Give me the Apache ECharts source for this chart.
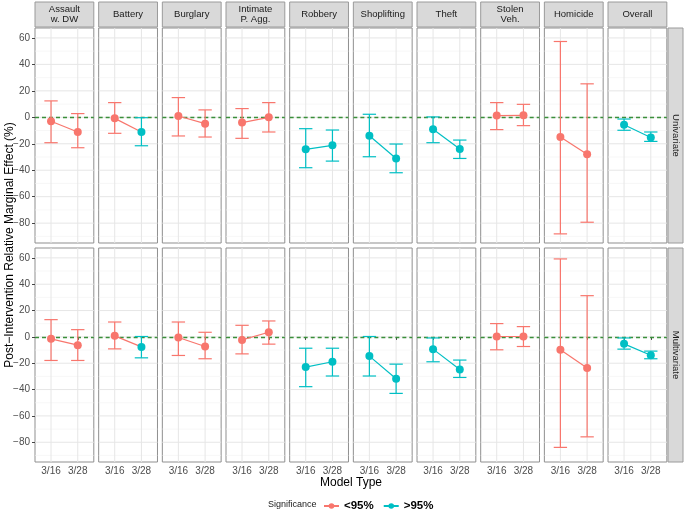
<!DOCTYPE html>
<html><head><meta charset="utf-8">
<script src="https://cdn.jsdelivr.net/npm/echarts@6/dist/echarts.min.js"></script>
<style>html,body{margin:0;padding:0;background:#fff}#c{width:685px;height:513px}</style>
</head><body><div id="c"></div>
<script>
// ---------- data ----------
const crimes = ['Assault\nw. DW','Battery','Burglary','Intimate\nP. Agg.','Robbery','Shoplifting','Theft','Stolen\nVeh.','Homicide','Overall'];
const models = ['Univariate','Multivariate'];
const modelTypes = ['3/16','3/28'];
const yTicks = [-80,-60,-40,-20,0,20,40,60];
const yGrid = [-90,-80,-70,-60,-50,-40,-30,-20,-10,0,10,20,30,40,50,60];
const sigLevels = ['<95%','>95%'];

// Univariate: [3/16, 3/28] per crime
const uniEst  = [[-3,-11.1],[-0.8,-11.1],[1,-4.8],[-4,0],[-24.2,-21.2],[-13.9,-31.1],[-9.1,-24],[1.3,1.5],[-14.9,-28],[-5.6,-15.2]];
const uniLow  = [[-19.2,-23],[-12.1,-21.5],[-14.1,-14.9],[-15.9,-11.1],[-38.1,-33.1],[-29.8,-41.9],[-19.2,-31.1],[-9.3,-6.3],[-88.1,-79.3],[-9.8,-18.2]];
const uniHigh = [[12.4,2.8],[11.1,-0.3],[14.9,5.6],[6.6,11.1],[-8.6,-9.6],[2.3,-20.2],[0.3,-17.2],[11.1,9.8],[57.3,25.3],[-1.3,-11.1]];
const uniSig  = [['<95%','<95%'],['<95%','>95%'],['<95%','<95%'],['<95%','<95%'],['>95%','>95%'],['>95%','>95%'],['>95%','>95%'],['<95%','<95%'],['<95%','<95%'],['>95%','>95%']];

// Multivariate
const mulEst  = [[-1.5,-6.3],[0.8,-7.6],[-0.5,-7.3],[-2.3,3.5],[-22.9,-18.9],[-14.6,-31.8],[-9.3,-24.7],[0.3,0.3],[-9.8,-23.7],[-5.3,-13.9]];
const mulLow  = [[-17.9,-17.9],[-9.1,-15.9],[-14.1,-16.6],[-12.9,-5.5],[-37.8,-29.7],[-29.7,-42.9],[-18.9,-30.8],[-9.8,-7.3],[-83.9,-75.9],[-9.3,-16.6]];
const mulHigh = [[13.1,5.5],[11.3,0.3],[11.3,3.5],[8.8,12.1],[-8.6,-8.6],[0.3,-20.7],[-0.8,-17.6],[10.1,7.8],[59.2,31.3],[-0.8,-10.8]];
const mulSig  = [['<95%','<95%'],['<95%','>95%'],['<95%','<95%'],['<95%','<95%'],['>95%','>95%'],['>95%','>95%'],['>95%','>95%'],['<95%','<95%'],['<95%','<95%'],['>95%','>95%']];

// ---------- styling / layout ----------
const COLORS = {'<95%':'#F8766D','>95%':'#00BFC4'};
const FONT = 'Liberation Sans, Arial, sans-serif';
const L0 = 35, STRIDE = 63.67, W = 58.8;
const ROW_TOP = [28, 248], ROW_H = [215, 214];
const YMIN = -95, YMAX = 67.5;

const est = [uniEst, mulEst], low = [uniLow, mulLow], high = [uniHigh, mulHigh], sig = [uniSig, mulSig];

const grids = [], xAxes = [], yAxes = [], series = [], graphics = [];

for (let r = 0; r < 2; r++) {
  for (let c = 0; c < 10; c++) {
    const k = r * 10 + c;
    grids.push({left: L0 + c * STRIDE, top: ROW_TOP[r], width: W, height: ROW_H[r],
      show: true, borderColor: '#8f8f8f', borderWidth: 1, backgroundColor: '#fff', containLabel: false});
    xAxes.push({type: 'value', gridIndex: k, min: 0.4, max: 2.6,
      axisLine: {show: false}, splitLine: {show: false},
      axisTick: {show: r === 1, customValues: [1, 2], length: 3, lineStyle: {color: '#444'}},
      axisLabel: {show: r === 1, customValues: [1, 2], formatter: v => modelTypes[Math.round(v) - 1],
        fontSize: 10, color: '#4D4D4D', fontFamily: FONT, margin: 4}});
    yAxes.push({type: 'value', gridIndex: k, min: YMIN, max: YMAX,
      axisLine: {show: false}, splitLine: {show: false},
      axisTick: {show: c === 0, customValues: yTicks, length: 3, lineStyle: {color: '#444'}},
      axisLabel: {show: c === 0, customValues: yTicks, formatter: v => String(v).replace('-', '\u2212'),
        fontSize: 10, color: '#4D4D4D', fontFamily: FONT, margin: 5}});

    // grid lines (kind 0 = horizontal at y, kind 1 = vertical at x)
    const gl = yGrid.map(v => [0, v, v % 20 === 0 ? 1 : 0]).concat([[1, 1, 1], [1, 2, 1]]);
    series.push({type: 'custom', xAxisIndex: k, yAxisIndex: k, silent: true, z: 0,
      data: gl,
      renderItem: (params, api) => {
        const kind = api.value(0), v = api.value(1), major = api.value(2);
        let p1, p2;
        if (kind === 0) { p1 = api.coord([0.4, v]); p2 = api.coord([2.6, v]); }
        else { p1 = api.coord([v, YMIN]); p2 = api.coord([v, YMAX]); }
        return {type: 'line', shape: {x1: p1[0], y1: p1[1], x2: p2[0], y2: p2[1]},
          style: {stroke: major ? '#E6E6E6' : '#F2F2F2', lineWidth: major ? 1 : 0.6}};
      },
      markLine: {silent: true, symbol: 'none', label: {show: false}, z: 1,
        lineStyle: {color: '#3A8F3A', type: [4, 3], width: 1.3},
        data: [{yAxis: 0}]}
    });

    // error bars
    series.push({type: 'custom', xAxisIndex: k, yAxisIndex: k, silent: true, z: 3,
      data: [0, 1].map(i => [i + 1, low[r][c][i], high[r][c][i], sigLevels.indexOf(sig[r][c][i])]),
      renderItem: (params, api) => {
        const x = api.value(0), lo = api.value(1), hi = api.value(2);
        const col = COLORS[sigLevels[api.value(3)]];
        const a = api.coord([x, lo]), b = api.coord([x, hi]);
        const l1 = api.coord([x - 0.25, lo]), r1 = api.coord([x + 0.25, lo]);
        const l2 = api.coord([x - 0.25, hi]), r2 = api.coord([x + 0.25, hi]);
        const st = {stroke: col, lineWidth: 1.2};
        return {type: 'group', children: [
          {type: 'line', shape: {x1: a[0], y1: a[1], x2: b[0], y2: b[1]}, style: st},
          {type: 'line', shape: {x1: l1[0], y1: l1[1], x2: r1[0], y2: r1[1]}, style: st},
          {type: 'line', shape: {x1: l2[0], y1: l2[1], x2: r2[0], y2: r2[1]}, style: st}]};
      }
    });

    // connecting line (coloured by first point)
    series.push({type: 'line', xAxisIndex: k, yAxisIndex: k, silent: true, z: 4,
      data: [[1, est[r][c][0]], [2, est[r][c][1]]], symbol: 'none',
      lineStyle: {color: COLORS[sig[r][c][0]], width: 1.2}, animation: false});

    // points
    series.push({type: 'scatter', xAxisIndex: k, yAxisIndex: k, silent: true, z: 5,
      symbolSize: 8,
      data: [0, 1].map(i => ({value: [i + 1, est[r][c][i]], itemStyle: {color: COLORS[sig[r][c][i]], opacity: 1}}))});
  }
}

// legend dummy series
sigLevels.forEach(s => series.push({type: 'line', name: s, xAxisIndex: 0, yAxisIndex: 0, data: [],
  color: COLORS[s], symbol: 'circle', symbolSize: 7, lineStyle: {color: COLORS[s], width: 1.2}, itemStyle: {color: COLORS[s]}}));

// top strips
crimes.forEach((name, c) => {
  const x = L0 + c * STRIDE;
  graphics.push({type: 'rect', shape: {x: x, y: 2, width: W, height: 25}, style: {fill: '#D9D9D9', stroke: '#9a9a9a', lineWidth: 1}, z: 10});
  graphics.push({type: 'text', x: x + W / 2, y: 14.5, z: 11,
    style: {text: name, fill: '#1A1A1A', font: '9.5px ' + FONT, align: 'center', verticalAlign: 'middle', lineHeight: 10}});
});
// right strips
models.forEach((m, r) => {
  graphics.push({type: 'rect', shape: {x: 668, y: ROW_TOP[r], width: 15, height: ROW_H[r]}, style: {fill: '#D9D9D9', stroke: '#9a9a9a', lineWidth: 1}, z: 10});
  graphics.push({type: 'text', x: 675.5, y: ROW_TOP[r] + ROW_H[r] / 2, rotation: -Math.PI / 2, z: 11,
    style: {text: m, fill: '#1A1A1A', font: '9.5px ' + FONT, align: 'center', verticalAlign: 'middle'}});
});
// axis titles
graphics.push({type: 'text', x: 10, y: 245, rotation: Math.PI / 2,
  style: {text: 'Post\u2212Intervention Relative Marginal Effect (%)', fill: '#000', font: '12px ' + FONT, align: 'center', verticalAlign: 'middle'}});
graphics.push({type: 'text', x: 351, y: 483,
  style: {text: 'Model Type', fill: '#000', font: '12px ' + FONT, align: 'center', verticalAlign: 'middle'}});
graphics.push({type: 'text', x: 268, y: 505,
  style: {text: 'Significance', fill: '#1A1A1A', font: '9px ' + FONT, align: 'left', verticalAlign: 'middle'}});

const chart = echarts.init(document.getElementById('c'), null, {renderer: 'canvas'});
chart.setOption({
  animation: false,
  backgroundColor: '#fff',
  grid: grids, xAxis: xAxes, yAxis: yAxes, series: series, graphic: graphics,
  legend: {data: sigLevels, left: 318, top: 495, itemWidth: 15, itemHeight: 7, itemGap: 9,
    textStyle: {fontSize: 11.5, fontWeight: 'bold', color: '#000', fontFamily: FONT}}
});
</script></body></html>
